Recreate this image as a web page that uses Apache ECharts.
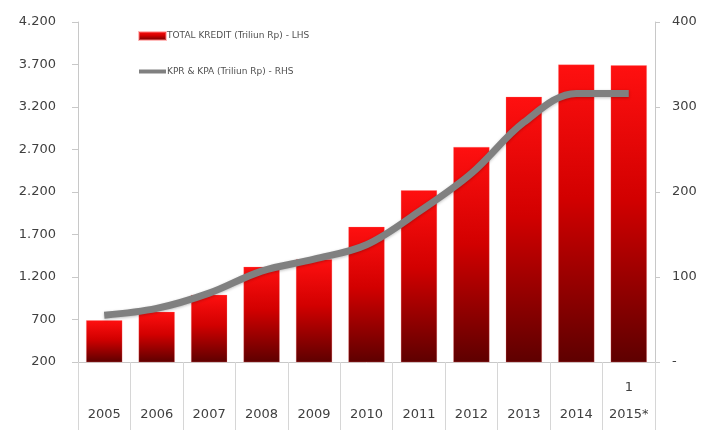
<!DOCTYPE html>
<html>
<head>
<meta charset="utf-8">
<script src="https://cdn.jsdelivr.net/npm/echarts@6/dist/echarts.min.js"></script>
<style>
  html, body { margin: 0; padding: 0; background: #fff; }
  #chart { width: 704px; height: 430px; }
</style>
</head>
<body>
<div id="chart"></div>
<script>
// Years on the category axis
var years = ['2005', '2006', '2007', '2008', '2009', '2010', '2011', '2012', '2013', '2014', '2015*'];
// Small note printed above a year in the axis table
var yearNotes = ['', '', '', '', '', '', '', '', '', '', '1'];
// Total credit, trillion Rp (left axis)
var totalKredit = [690, 790, 990, 1320, 1410, 1790, 2220, 2730, 3320, 3700, 3690];
// Housing & apartment loans, trillion Rp (right axis)
var kprKpa = [55, 63, 81, 107, 121, 138, 177, 222, 282, 316, 316];
// Axis ranges
var leftTicks = { min: 200, max: 4200, step: 500 };
var rightTicks = { min: 0, max: 400, step: 100 };

var seriesNames = ['TOTAL KREDIT (Triliun Rp) - LHS', 'KPR & KPA (Triliun Rp) - RHS'];

function dotThousands(v) {
  return String(v).replace(/\B(?=(\d{3})+(?!\d))/g, '.');
}

var font = 'DejaVu Sans';
var axisGray = '#c8c8c8';
var textGray = '#404040';
var lineGray = '#808080';

var chart = echarts.init(document.getElementById('chart'), null, { renderer: 'canvas' });
chart.setOption({
  animation: false,
  backgroundColor: '#ffffff',
  textStyle: { fontFamily: font },
  grid: { left: 78, right: 49, top: 22, bottom: 68, containLabel: false },
  legend: {
    orient: 'vertical',
    left: 132,
    top: 26,
    itemGap: 26,
    itemWidth: 27,
    itemHeight: 8,
    textStyle: { fontFamily: font, fontSize: 9, color: '#505050', padding: [0, 0, 0, -4] },
    data: [
      { name: seriesNames[0], icon: 'rect' },
      {
        name: seriesNames[1],
        itemStyle: { color: 'transparent', borderWidth: 0, opacity: 0 },
        lineStyle: { color: lineGray, width: 4, shadowBlur: 0, shadowOffsetY: 0 }
      }
    ]
  },
  xAxis: {
    type: 'category',
    data: years,
    boundaryGap: true,
    axisLine: { show: true, lineStyle: { color: axisGray, width: 1 } },
    axisTick: { show: true, interval: 0, length: 68, lineStyle: { color: '#d6d6d6', width: 1 } },
    axisLabel: {
      interval: 0,
      margin: 12,
      fontFamily: font,
      fontSize: 13,
      color: textGray,
      lineHeight: 27,
      formatter: function (name, i) {
        return (yearNotes[i] || ' ') + '\n' + name;
      }
    },
    splitLine: { show: false }
  },
  yAxis: [
    {
      type: 'value',
      position: 'left',
      min: leftTicks.min,
      max: leftTicks.max,
      interval: leftTicks.step,
      axisLine: { show: true, lineStyle: { color: axisGray } },
      axisTick: { show: true, length: 6, lineStyle: { color: axisGray } },
      axisLabel: {
        margin: 22,
        fontFamily: font,
        fontSize: 13,
        color: textGray,
        formatter: function (v) { return dotThousands(v); }
      },
      splitLine: { show: false }
    },
    {
      type: 'value',
      position: 'right',
      min: rightTicks.min,
      max: rightTicks.max,
      interval: rightTicks.step,
      axisLine: { show: true, lineStyle: { color: axisGray } },
      axisTick: { show: true, length: 5, lineStyle: { color: axisGray } },
      axisLabel: {
        margin: 17,
        fontFamily: font,
        fontSize: 13,
        color: textGray,
        formatter: function (v) { return v === 0 ? '-' : String(v); }
      },
      splitLine: { show: false }
    }
  ],
  series: [
    {
      name: seriesNames[0],
      type: 'bar',
      yAxisIndex: 0,
      data: totalKredit,
      barCategoryGap: '31%',
      itemStyle: {
        color: new echarts.graphic.LinearGradient(0, 0, 0, 1, [
          { offset: 0, color: '#ff1010' },
          { offset: 0.45, color: '#d20000' },
          { offset: 1, color: '#5e0000' }
        ]),
        borderColor: 'rgba(255,120,120,0.5)',
        borderWidth: 0.5
      }
    },
    {
      name: seriesNames[1],
      type: 'line',
      yAxisIndex: 1,
      data: kprKpa,
      smooth: 0.35,
      symbol: 'none',
      lineStyle: {
        color: lineGray,
        width: 7,
        shadowColor: 'rgba(0,0,0,0.25)',
        shadowBlur: 3,
        shadowOffsetY: 1
      },
      itemStyle: { color: lineGray },
      z: 3
    }
  ]
});
</script>
</body>
</html>
